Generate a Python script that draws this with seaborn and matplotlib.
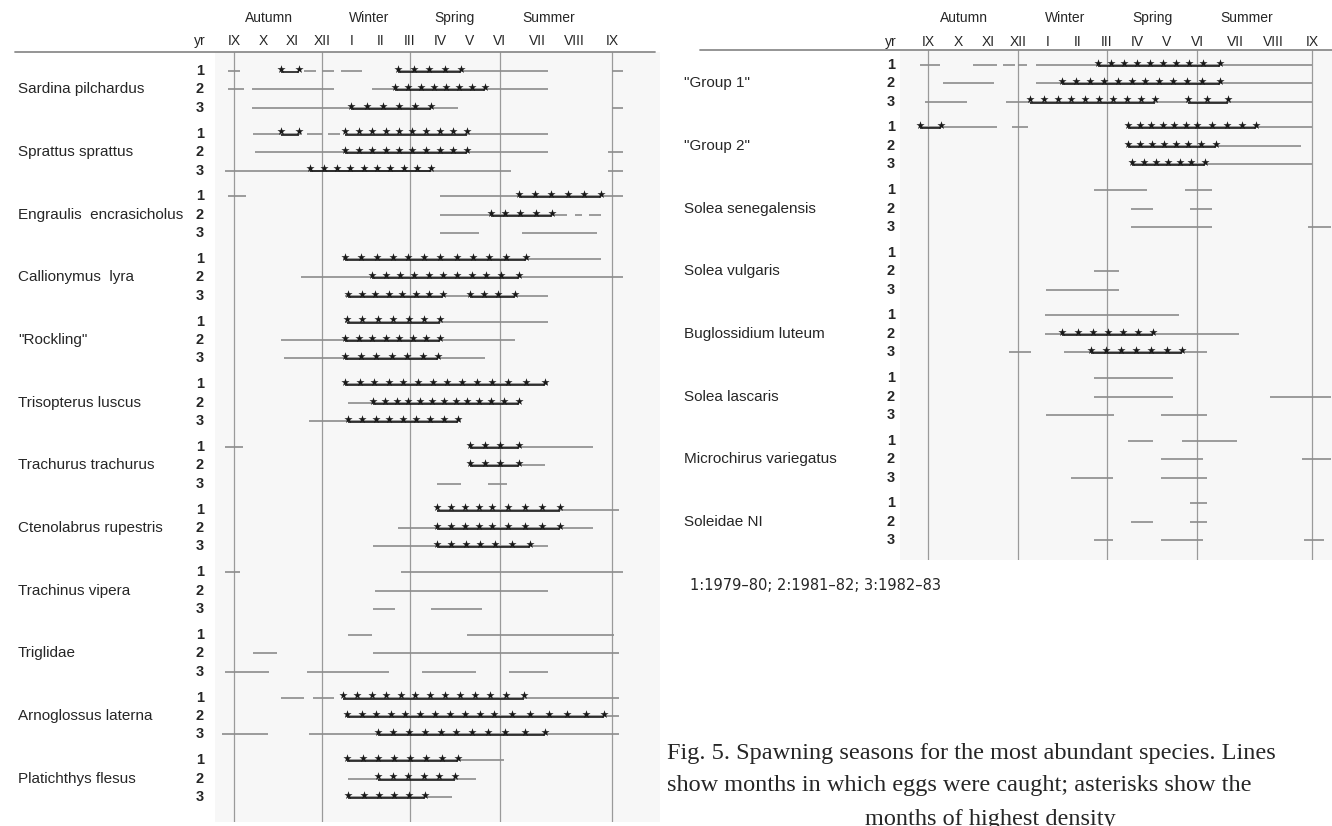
import numpy as np
import pandas as pd
import matplotlib
matplotlib.use('Agg')
import matplotlib.pyplot as plt
from matplotlib.lines import Line2D
import seaborn as sns

# month axis: IX=0 ... IX=12 (September to September)
months = ['IX', 'X', 'XI', 'XII', 'I', 'II', 'III', 'IV', 'V', 'VI', 'VII', 'VIII', 'IX']
seasons = ['Autumn', 'Winter', 'Spring', 'Summer']
years = ['1', '2', '3']

left_names = ['Sardina pilchardus', 'Sprattus sprattus', 'Engraulis  encrasicholus',
              'Callionymus  lyra', '"Rockling"', 'Trisopterus luscus', 'Trachurus trachurus',
              'Ctenolabrus rupestris', 'Trachinus vipera', 'Triglidae',
              'Arnoglossus laterna', 'Platichthys flesus']

# months in which eggs were caught (one list of segments per year row)
left_lines = [
    [(-0.2, 0.2), (2.4, 2.8), (3.0, 3.4), (3.65, 4.35), (5.6, 10.3), (12.0, 12.3)],
    [(-0.2, 0.35), (0.6, 3.4), (4.7, 10.3)],
    [(0.6, 7.6), (12.0, 12.3)],
    [(0.65, 2.3), (2.5, 3.0), (3.2, 3.6), (3.8, 10.3)],
    [(0.7, 10.3), (11.9, 12.3)],
    [(-0.3, 9.3), (11.9, 12.3)],
    [(-0.2, 0.4), (7.0, 12.3)],
    [(7.0, 10.8), (11.0, 11.2), (11.4, 11.7)],
    [(7.0, 8.3), (9.6, 11.6)],
    [(3.7, 11.7)],
    [(2.3, 12.3)],
    [(3.8, 10.3)],
    [(3.8, 10.3)],
    [(1.6, 9.4)],
    [(1.7, 8.5)],
    [(3.8, 10.3)],
    [(3.9, 9.5)],
    [(2.55, 7.7)],
    [(-0.3, 0.3), (8.0, 11.5)],
    [(8.0, 10.2)],
    [(6.9, 7.7), (8.6, 9.2)],
    [(6.9, 12.2)],
    [(5.6, 11.5)],
    [(4.75, 10.3)],
    [(-0.3, 0.2), (5.7, 12.3)],
    [(4.8, 10.3)],
    [(4.75, 5.5), (6.7, 8.4)],
    [(3.9, 4.7), (7.9, 12.05)],
    [(0.65, 1.45), (4.75, 12.2)],
    [(-0.3, 1.2), (2.5, 5.3), (6.4, 8.2), (9.25, 10.3)],
    [(1.6, 2.4), (2.7, 3.4), (3.7, 12.2)],
    [(3.8, 12.2)],
    [(-0.4, 1.15), (2.55, 12.2)],
    [(3.85, 9.1)],
    [(3.9, 8.2)],
    [(3.9, 7.4)],
]

# months of highest density: (start, end, number of asterisks)
left_stars = [
    [(1.6, 2.2, 2), (5.6, 7.7, 5)],
    [(5.5, 8.5, 8)],
    [(4.0, 6.7, 6)],
    [(1.6, 2.2, 2), (3.8, 7.9, 10)],
    [(3.8, 7.9, 10)],
    [(2.6, 6.7, 10)],
    [(9.5, 11.7, 6)],
    [(8.7, 10.4, 5)],
    [],
    [(3.8, 9.7, 12)],
    [(4.7, 9.5, 11)],
    [(3.9, 7.1, 8), (8.0, 9.4, 4)],
    [(3.85, 7.0, 7)],
    [(3.8, 7.0, 8)],
    [(3.8, 6.95, 7)],
    [(3.8, 10.2, 14)],
    [(4.75, 9.5, 13)],
    [(3.9, 7.6, 9)],
    [(8.0, 9.5, 4)],
    [(8.0, 9.5, 4)],
    [],
    [(6.9, 10.6, 9)],
    [(6.9, 10.6, 9)],
    [(6.9, 9.8, 7)],
    [], [], [],
    [], [], [],
    [(3.7, 9.65, 13)],
    [(3.85, 11.8, 17)],
    [(4.9, 10.2, 11)],
    [(3.85, 7.6, 8)],
    [(4.9, 7.5, 6)],
    [(3.9, 6.5, 6)],
]

right_names = ['"Group 1"', '"Group 2"', 'Solea senegalensis', 'Solea vulgaris',
               'Buglossidium luteum', 'Solea lascaris', 'Microchirus variegatus', 'Soleidae NI']

right_lines = [
    [(-0.25, 0.4), (1.5, 2.3), (2.5, 2.9), (3.0, 3.3), (3.6, 12.0)],
    [(0.5, 2.2), (3.6, 12.0)],
    [(-0.1, 1.3), (2.6, 12.0)],
    [(-0.25, 2.3), (2.8, 3.35), (6.7, 12.0)],
    [(6.7, 11.7)],
    [(6.85, 12.0)],
    [(5.55, 7.35), (8.6, 9.4)],
    [(6.8, 7.55), (8.75, 9.4)],
    [(6.8, 9.4), (11.9, 12.5)],
    [],
    [(5.55, 6.4)],
    [(3.95, 6.4)],
    [(3.9, 8.4)],
    [(3.9, 10.1)],
    [(2.7, 3.45), (4.55, 9.25)],
    [(5.55, 8.2)],
    [(5.55, 8.2), (10.9, 12.5)],
    [(3.95, 6.25), (7.8, 9.25)],
    [(6.7, 7.55), (8.5, 10.05)],
    [(7.8, 9.15), (11.75, 12.5)],
    [(4.8, 6.2), (7.8, 9.25)],
    [(8.75, 9.25)],
    [(6.8, 7.55), (8.75, 9.25)],
    [(5.55, 6.2), (7.8, 9.15), (11.8, 12.3)],
]

right_stars = [
    [(5.7, 9.6, 10)],
    [(4.5, 9.6, 12)],
    [(3.4, 7.6, 10), (8.7, 9.8, 3)],
    [(-0.25, 0.45, 2), (6.7, 10.55, 11)],
    [(6.7, 9.5, 8)],
    [(6.85, 9.2, 7)],
    [], [], [],
    [], [], [],
    [],
    [(4.5, 7.55, 7)],
    [(5.45, 8.5, 7)],
    [], [], [],
    [], [], [],
    [], [], [],
]

W, H = 1332, 826
sns.set_theme(style='white')
plt.rcParams['font.family'] = ['Liberation Sans', 'DejaVu Sans']

fig = plt.figure(figsize=(W / 100, H / 100), dpi=100)


def month_scale(px):
    # the hand-drawn month axis is not uniform: summer is wider
    m = np.array([-3, 0, 3, 6, 9, 12, 15], dtype=float)
    p = np.array([2 * px[0] - px[1]] + list(px) + [2 * px[4] - px[3]], dtype=float)
    return (lambda x: np.interp(x, m, p), lambda y: np.interp(y, p, m))


def panel(rect, px, xlim, ylim, names, lines, stars, num_x, name_x, top_month, top_season):
    ax = fig.add_axes(rect)
    ax.set_facecolor('#f7f7f7')
    ax.set_xscale('function', functions=month_scale(px))
    ax.set_xlim(*xlim)
    ax.set_ylim(*ylim)
    for s in ax.spines.values():
        s.set_visible(False)
    ax.set_xticks([])
    ax.set_yticks([])

    for m in [0, 3, 6, 9, 12]:
        ax.axvline(m, color='#9a9a9a', lw=0.9, zorder=1)

    rows = []
    for g in range(len(names)):
        for r in range(3):
            rows.append(g * 3.4 + r)

    pts = []
    for i, y in enumerate(rows):
        for a, b in lines[i]:
            ax.hlines(y, a, b, color='#8c8c8c', lw=1.2, zorder=2)
        for a, b, n in stars[i]:
            ax.hlines(y + 0.05, a, b, color='#1a1a1a', lw=1.2, zorder=3)
            for x in np.linspace(a, b, n):
                pts.append((x, y - 0.12))
    df = pd.DataFrame(pts, columns=['x', 'y'])
    sns.scatterplot(data=df, x='x', y='y', marker='*', s=38, color='#1a1a1a',
                    linewidth=0, ax=ax, zorder=4, legend=False)
    ax.set_xlabel('')
    ax.set_ylabel('')

    yt = ax.get_yaxis_transform()
    xt = ax.get_xaxis_transform()
    for g, name in enumerate(names):
        ax.text(name_x, g * 3.4 + 1, name, transform=yt, ha='left', va='center',
                fontsize=11, clip_on=False)
        for r in range(3):
            ax.text(num_x, g * 3.4 + r, years[r], transform=yt, ha='center', va='center',
                    fontsize=10.5, fontweight='bold', clip_on=False)
    for m, lab in enumerate(months):
        ax.text(m, top_month, lab, transform=xt, ha='center', va='center',
                fontsize=10, clip_on=False)
    for k, lab in zip([1.2, 4.6, 7.5, 10.3], seasons):
        ax.text(k, top_season, lab, transform=xt, ha='center', va='center',
                fontsize=10, clip_on=False)
    ax.text(num_x, top_month, 'yr', transform=ax.transAxes, ha='center', va='center',
            fontsize=10, clip_on=False)
    return ax


# left panel: axes from x=215..660 px, y=52..822 px
panel([215 / W, 1 - 822 / H, 445 / W, 770 / H], [234, 322, 410, 500, 612],
      (-0.65, 13.29), (40.75, -1.03), left_names, left_lines, left_stars,
      num_x=(200 - 215) / 445, name_x=(18 - 215) / 445,
      top_month=1 + 11 / 770, top_season=1 + 34 / 770)

# right panel: axes from x=900..1332 px, y=50..560 px
panel([900 / W, 1 - 560 / H, 432 / W, 510 / H], [928, 1018, 1107, 1197, 1312],
      (-0.93, 12.52), (26.87, -0.8), right_names, right_lines, right_stars,
      num_x=(891 - 900) / 432, name_x=(684 - 900) / 432,
      top_month=1 + 8 / 510, top_season=1 + 32 / 510)

# header rules
fig.add_artist(Line2D([15 / W, 655 / W], [1 - 52 / H] * 2, color='#8c8c8c', lw=1.3))
fig.add_artist(Line2D([700 / W, 1332 / W], [1 - 50 / H] * 2, color='#8c8c8c', lw=1.3))

fig.text(690 / W, 1 - 585 / H, '1:1979\u201380; 2:1981\u201382; 3:1982\u201383',
         ha='left', va='center', fontsize=10.5, family=['DejaVu Sans'])

cap = dict(family=['Liberation Serif', 'DejaVu Serif'], fontsize=17.5, va='center')
fig.text(667 / W, 1 - 754 / H, 'Fig. 5. Spawning seasons for the most abundant species. Lines',
         ha='left', **cap)
fig.text(667 / W, 1 - 786 / H, 'show months in which eggs were caught; asterisks show the',
         ha='left', **cap)
fig.text(990 / W, 1 - 820 / H, 'months of highest density', ha='center', **cap)

fig.savefig('out.png', dpi=100)
